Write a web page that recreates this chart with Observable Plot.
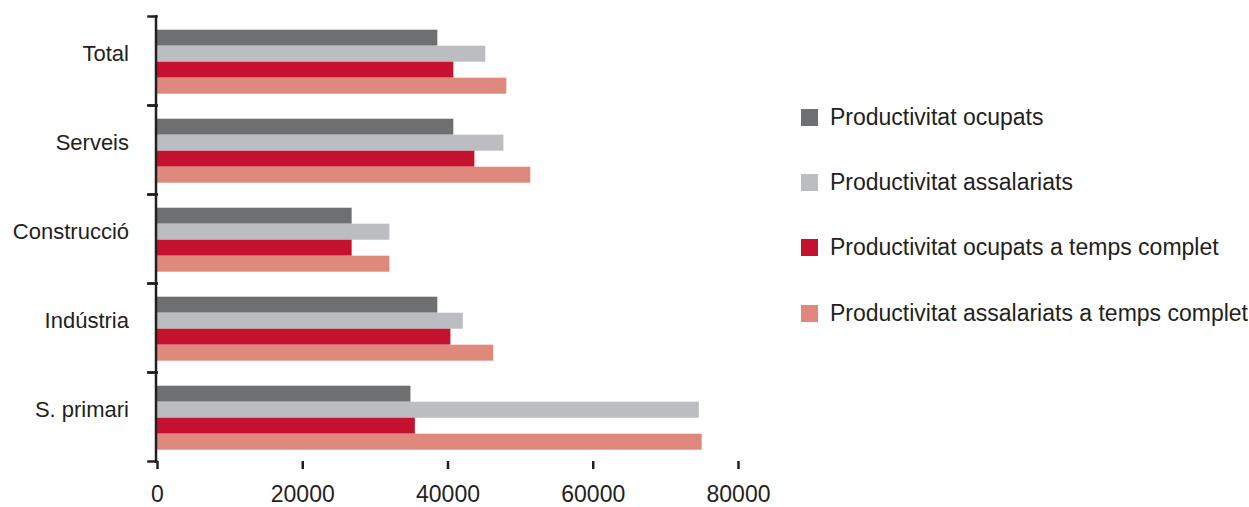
<!DOCTYPE html>
<html>
<head>
<meta charset="utf-8">
<script src="https://cdn.jsdelivr.net/npm/d3@7"></script>
<script src="https://cdn.jsdelivr.net/npm/@observablehq/plot@0.6"></script>
<style>
  body { margin: 0; background: #fff; }
  #wrap { position: relative; width: 1249px; height: 507px; }
  #chart { position: absolute; left: 0; top: 0; }
  #legend { position: absolute; left: 801px; top: 108.5px; width: 448px; }
  .lg-swatches { font-family: "Liberation Sans", sans-serif; font-size: 23px; color: #231f20; margin: 0; }
  .lg-swatches-columns .lg-swatch { height: 17px; margin-bottom: 48.4px; padding-bottom: 0; }
  .lg-swatch > svg { margin-right: 12px; }
</style>
</head>
<body>
<div id="wrap">
  <div id="chart"></div>
  <div id="legend"></div>
</div>
<script>
// Sectors, top to bottom
const categories = ["Total", "Serveis", "Construcció", "Indústria", "S. primari"];

// Series names and fills
const series = [
  "Productivitat ocupats",
  "Productivitat assalariats",
  "Productivitat ocupats a temps complet",
  "Productivitat assalariats a temps complet"
];
const colors = ["#6e6f71", "#bcbdc0", "#c41230", "#df897c"];

// Productivity values (euros) per sector, one array per series
const ocupats              = [38600, 40800, 26800, 38600, 34900];
const assalariats          = [45200, 47700, 32000, 42100, 74600];
const ocupatsTempsComplet  = [40800, 43700, 26800, 40400, 35500];
const assalariatsTempsComp = [48100, 51400, 32000, 46300, 75000];

const xTicks = [0, 20000, 40000, 60000, 80000];

const valuesBySeries = [ocupats, assalariats, ocupatsTempsComplet, assalariatsTempsComp];
const rows = [];
series.forEach((s, i) => {
  categories.forEach((c, j) => {
    rows.push({category: c, series: s, value: valuesBySeries[i][j]});
  });
});

const ink = "#231f20";

const chart = Plot.plot({
  width: 780,
  height: 507,
  marginLeft: 157,
  marginRight: 42,
  marginTop: 14.3,
  marginBottom: 45,
  style: {fontFamily: "Liberation Sans, sans-serif", color: ink, background: "transparent"},
  x: {domain: [0, 80000]},
  y: {domain: series, paddingInner: 0, paddingOuter: 0.648, align: 0.56, axis: null},
  fy: {domain: categories, padding: 0},
  color: {domain: series, range: colors},
  marks: [
    Plot.barX(rows, {x: "value", y: "series", fy: "category", fill: "series"}),
    // vertical axis line and the short ticks between sectors
    Plot.frame({anchor: "left", stroke: ink, strokeWidth: 2.5, insetLeft: -1.5}),
    Plot.frame({anchor: "top", stroke: ink, strokeWidth: 2.5, insetLeft: -9, insetRight: 582}),
    Plot.frame({anchor: "bottom", stroke: ink, strokeWidth: 2.5, insetLeft: -9, insetRight: 582}),
    Plot.axisX({
      ticks: xTicks,
      tickSize: 8,
      tickPadding: 16,
      tickFormat: d3.format("d"),
      fontSize: 23,
      stroke: ink,
      strokeWidth: 2.5,
      line: true,
      label: null,
      style: {letterSpacing: "1px"}
    }),
    Plot.axisFy({anchor: "left", tickSize: 0, tickPadding: 28.5, dy: -7, fontSize: 22, label: null})
  ]
});
document.getElementById("chart").appendChild(chart);

const legend = Plot.legend({
  color: {domain: series, range: colors},
  legend: "swatches",
  columns: 1,
  swatchSize: 17,
  className: "lg"
});
document.getElementById("legend").appendChild(legend);
</script>
</body>
</html>
